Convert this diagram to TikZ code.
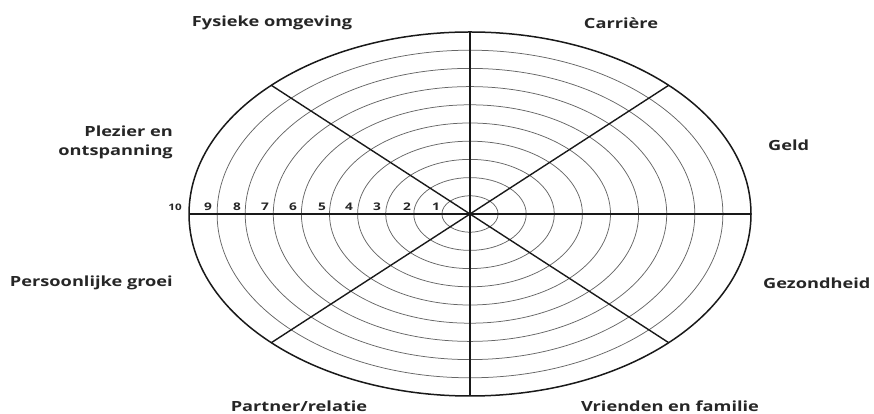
\documentclass[tikz,border=0pt]{standalone}
\usepackage{fontspec}
\usepackage{graphicx}
\newfontfamily\lblfont{Open Sans}
\newcommand\hx[1]{\scalebox{1.3}[1]{#1}}
\tikzset{
  lbl/.style={font=\lblfont\bfseries\fontsize{14}{19}\selectfont, text=black!85, inner sep=0pt},
  num/.style={font=\lblfont\bfseries\fontsize{10.5}{12}\selectfont, text=black!85, inner sep=0pt, anchor=base},
  ring/.style={draw=black!60, line width=0.75pt},
  rim/.style={draw=black!90, line width=1.5pt},
  spoke/.style={draw=black!90, line width=1.4pt},
}
\begin{document}
\begin{tikzpicture}[x=1pt,y=1pt]
\useasboundingbox (0,0) rectangle (874,414);
\coordinate (c) at (470,200);
% rings
\foreach \k in {1,...,9}
  \draw[ring] (c) ellipse [x radius={28.1*\k}, y radius={18.2*\k}];
\draw[rim] (c) ellipse [x radius=281, y radius=182];
% spoke ends
\coordinate (t) at (470,382);
\coordinate (b) at (470,18);
\coordinate (l) at (189,200);
\coordinate (r) at (751,200);
\coordinate (ul) at (271.3,328.7);
\coordinate (ur) at (668.7,328.7);
\coordinate (ll) at (271.3,71.3);
\coordinate (lr) at (668.7,71.3);
\draw[spoke] (t) -- (b);
\draw[spoke] (l) -- (r);
\draw[spoke] (ul) -- (lr);
\draw[spoke] (ur) -- (ll);
% scale numbers
\foreach \n/\x in {1/436,2/407,3/377,4/349,5/322,6/293,7/265,8/237,9/208}
  \node[num] (n\n) at (\x,203) {\hx{\n}};
\node[num, font=\lblfont\bfseries\fontsize{9}{10}\selectfont] (n10) at (175,203) {\hx{10}};
% labels
\node[lbl] (fys) at (272,391) {\hx{Fysieke omgeving}};
\node[lbl] (car) at (621,391) {\hx{Carrière}};
\node[lbl, anchor=east] (plez) at (173,271.5) {\hx{\begin{tabular}{@{}r@{}}Plezier en\\ontspanning\end{tabular}}};
\node[lbl, anchor=west] (geld) at (768,269) {\hx{Geld}};
\node[lbl, anchor=east] (groei) at (173,131) {\hx{Persoonlijke groei}};
\node[lbl, anchor=west] (gez) at (763,131) {\hx{Gezondheid}};
\node[lbl] (part) at (299,8) {\hx{Partner/relatie}};
\node[lbl] (vri) at (670,8) {\hx{Vrienden en familie}};
\end{tikzpicture}
\end{document}
